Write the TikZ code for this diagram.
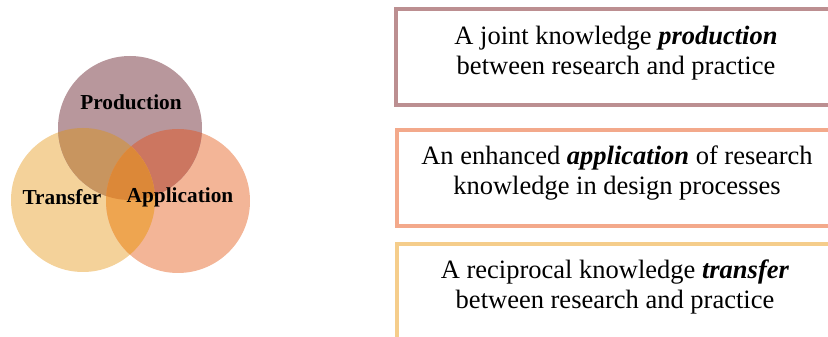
\documentclass[tikz,border=0pt]{standalone}
\usepackage{fontspec}
\setmainfont{Liberation Serif}
\definecolor{cP}{HTML}{B8979C}
\definecolor{cT}{HTML}{F4D29A}
\definecolor{cA}{HTML}{F3B597}
\definecolor{cPT}{HTML}{C8955F}
\definecolor{cPA}{HTML}{CC7660}
\definecolor{cTA}{HTML}{EEA550}
\definecolor{cPTA}{HTML}{DC8838}
\definecolor{bP}{HTML}{BC8F91}
\definecolor{bA}{HTML}{F3A98B}
\definecolor{bT}{HTML}{F5CD8B}
\begin{document}
\begin{tikzpicture}[x=1pt,y=1pt,
  boxtxt/.style={align=center, font=\fontsize{26.5}{30}\selectfont, inner sep=0pt},
  lbl/.style={font=\bfseries\fontsize{21.3}{24}\selectfont, inner sep=0pt},
  frame/.style={draw=#1, line width=4pt, minimum width=440pt, minimum height=96pt, inner sep=0pt}]
\useasboundingbox (0,0) rectangle (828,337);
\def\crad{72pt}
\coordinate (cp) at (130,209);
\coordinate (ct) at (83,137);
\coordinate (ca) at (178,136);
\fill[cT] (ct) circle (\crad);
\fill[cA] (ca) circle (\crad);
\fill[cP] (cp) circle (\crad);
\begin{scope}
  \clip (cp) circle (\crad);
  \fill[cPT] (ct) circle (\crad);
  \fill[cPA] (ca) circle (\crad);
\end{scope}
\begin{scope}
  \clip (ct) circle (\crad);
  \fill[cTA] (ca) circle (\crad);
  \clip (cp) circle (\crad);
  \fill[cPTA] (ca) circle (\crad);
\end{scope}
\node[lbl] (lp) at (131,235) {Production};
\node[lbl] (lt) at (62,140) {Transfer};
\node[lbl] (la) at (180,140) {Application};
\node[frame=bP] (b1) at (616,280) {};
\node[frame=bA] (b2) at (617,159) {};
\node[frame=bT] (b3) at (617,45) {};
\node[boxtxt] (t1) at (616,284) {A joint knowledge \textbf{\textit{production}}\\between research and practice};
\node[boxtxt] (t2) at (617,164) {An enhanced \textbf{\textit{application}} of research\\knowledge in design processes};
\node[boxtxt] (t3) at (615,50) {A reciprocal knowledge \textbf{\textit{transfer}}\\between research and practice};
\end{tikzpicture}
\end{document}
